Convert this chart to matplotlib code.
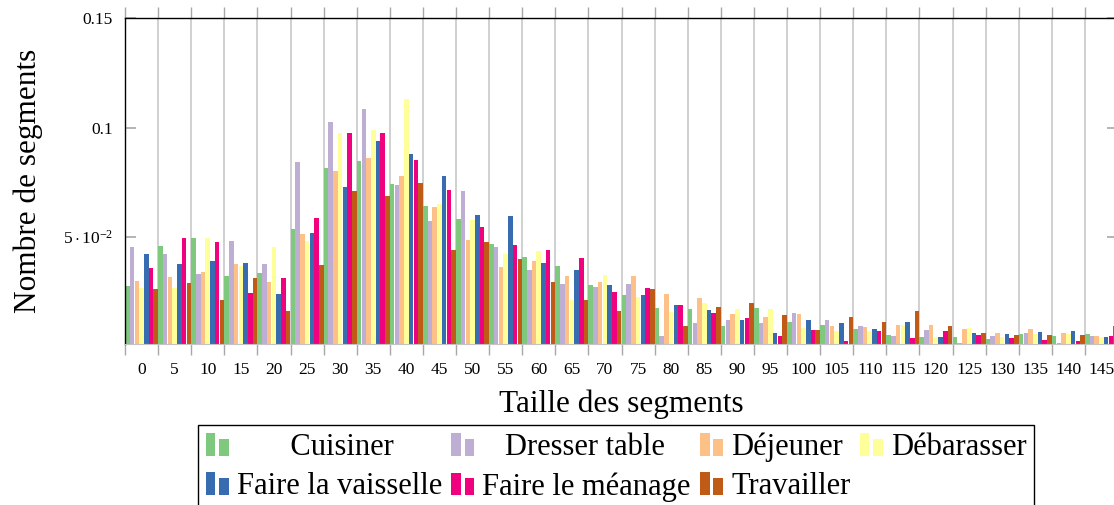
import matplotlib.pyplot as plt
import numpy as np
from matplotlib.legend_handler import HandlerBase
from matplotlib.patches import Rectangle

plt.rcParams['font.family'] = 'Liberation Serif'
plt.rcParams['mathtext.fontset'] = 'custom'
plt.rcParams['mathtext.rm'] = 'Liberation Serif'
plt.rcParams['mathtext.it'] = 'Liberation Serif:italic'

tailles = np.arange(0, 150, 5)

cuisiner = [0.0279, 0.0460, 0.0497, 0.0322, 0.0337, 0.0539, 0.0817, 0.0850, 0.0744, 0.0643,
            0.0584, 0.0471, 0.0411, 0.0369, 0.0283, 0.0236, 0.0177, 0.0172, 0.0093, 0.0177,
            0.0113, 0.0098, 0.0081, 0.0055, 0.0044, 0.0044, 0.0034, 0.0059, 0.0049, 0.0057]
dresser = [0.0454, 0.0424, 0.0334, 0.0483, 0.0379, 0.0844, 0.1027, 0.1086, 0.0739, 0.0574,
           0.0712, 0.0454, 0.0349, 0.0288, 0.0273, 0.0288, 0.0048, 0.0108, 0.0122, 0.0107,
           0.0154, 0.0122, 0.0093, 0.0048, 0.0076, 0.0015, 0.0048, 0.0063, 0.0015, 0.0049]
dejeuner = [0.0302, 0.0319, 0.0343, 0.0379, 0.0297, 0.0515, 0.0804, 0.0861, 0.0781, 0.0640,
            0.0488, 0.0366, 0.0392, 0.0322, 0.0297, 0.0322, 0.0241, 0.0221, 0.0149, 0.0134,
            0.0149, 0.0096, 0.0090, 0.0100, 0.0100, 0.0081, 0.0061, 0.0081, 0.0063, 0.0049]
debarasser = [0.0270, 0.0270, 0.0495, 0.0369, 0.0454, 0.0482, 0.0977, 0.0990, 0.1132, 0.0651,
              0.0580, 0.0424, 0.0439, 0.0213, 0.0326, 0.0227, 0.0157, 0.0201, 0.0171, 0.0171,
              0.0085, 0.0072, 0.0072, 0.0100, 0.0044, 0.0085, 0.0044, 0.0059, 0.0059, 0.0044]
vaisselle = [0.0424, 0.0377, 0.0393, 0.0381, 0.0241, 0.0518, 0.0731, 0.0940, 0.0879, 0.0780,
             0.0602, 0.0597, 0.0382, 0.0350, 0.0283, 0.0236, 0.0189, 0.0168, 0.0123, 0.0063,
             0.0123, 0.0107, 0.0079, 0.0113, 0.0044, 0.0063, 0.0058, 0.0067, 0.0072, 0.0044]
menage = [0.0358, 0.0495, 0.0480, 0.0245, 0.0313, 0.0588, 0.0974, 0.0974, 0.0853, 0.0716,
          0.0548, 0.0465, 0.0442, 0.0404, 0.0251, 0.0268, 0.0190, 0.0154, 0.0131, 0.0048,
          0.0078, 0.0026, 0.0070, 0.0041, 0.0072, 0.0055, 0.0040, 0.0032, 0.0026, 0.0049]
travailler = [0.0264, 0.0290, 0.0213, 0.0315, 0.0163, 0.0373, 0.0713, 0.0687, 0.0747, 0.0442,
              0.0477, 0.0400, 0.0297, 0.0213, 0.0163, 0.0264, 0.0095, 0.0180, 0.0198, 0.0145,
              0.0078, 0.0137, 0.0113, 0.0163, 0.0095, 0.0061, 0.0052, 0.0053, 0.0053, 0.0096]

series = [cuisiner, dresser, dejeuner, debarasser, vaisselle, menage, travailler]
noms = ["Cuisiner", "Dresser table", "Déjeuner", "Débarasser",
        "Faire la vaisselle", "Faire le méanage", "Travailler"]
# palette Accent
couleurs = ['#7fc97f', '#beaed4', '#fdc086', '#ffff99', '#386cb0', '#f0027f', '#bf5b17']


class DoubleBarre(HandlerBase):
    # deux petites barres comme dans les légendes ybar de pgfplots
    def create_artists(self, legend, orig, xd, yd, width, height, fontsize, trans):
        c = orig.get_facecolor()
        bw = width * 0.4
        a = Rectangle((-xd, -yd), bw, height, facecolor=c, edgecolor='none', transform=trans)
        b = Rectangle((-xd + width * 0.55, -yd), bw, height * 0.76,
                      facecolor=c, edgecolor='none', transform=trans)
        return [a, b]


fig = plt.figure(figsize=(11.14, 5.05), dpi=100)
ax = fig.add_axes([125 / 1114, 1 - 344 / 505, 993 / 1114, 325.7 / 505])

n = len(series)
w = 1 / n
pos = np.arange(len(tailles))
premiers = []
for j, (vals, c, nom) in enumerate(zip(series, couleurs, noms)):
    barres = ax.bar(pos + (j + 0.5) * w, vals, width=w * 0.96, color=c, label=nom, zorder=2)
    premiers.append(barres.patches[0])

ax.set_xlim(0, len(tailles))
ax.set_ylim(0.0012, 0.15)

ax.set_xticks(pos + 0.5)
ax.set_xticklabels([str(t) for t in tailles])
ax.set_xticks(np.arange(len(tailles) + 1), minor=True)
ax.tick_params(axis='x', which='major', length=0, pad=13, labelsize=12.5)
ax.tick_params(axis='x', which='minor', direction='out', length=8, width=1,
               color='#a8a8a8', top=True, bottom=True)
ax.grid(axis='x', which='minor', color='#c4c4c4', lw=1.1, zorder=0)
ax.set_axisbelow(True)

ax.set_yticks([0.05, 0.1, 0.15])
ax.set_yticklabels([r"$5\cdot10^{-2}$", "0.1", "0.15"])
ax.tick_params(axis='y', direction='in', length=8, width=1.2, color='#a8a8a8',
               left=True, right=True, labelsize=12.5, pad=8.6)

for s in ['left', 'top', 'right']:
    ax.spines[s].set_color('black')
    ax.spines[s].set_linewidth(1.0)
ax.spines['bottom'].set_color('#c4c4c4')

ax.set_xlabel("Taille des segments", fontsize=22.5)
ax.set_ylabel("Nombre de segments", fontsize=22.5)
ax.xaxis.set_label_coords(0.5, -0.14)
ax.yaxis.set_label_coords(-0.083, 0.5)

# ordre par lignes dans une légende à 4 colonnes
ordre = [0, 4, 1, 5, 2, 6, 3]
etiquettes = list(noms)
etiquettes[0] = "       " + etiquettes[0]
etiquettes[1] = "   " + etiquettes[1]
leg = fig.legend([premiers[i] for i in ordre], [etiquettes[i] for i in ordre],
                 handler_map={Rectangle: DoubleBarre()}, ncol=4, loc='upper left',
                 bbox_to_anchor=(198 / 1114, 1 - 425 / 505), fancybox=False,
                 edgecolor='black', framealpha=1, fontsize=22, handlelength=0.8,
                 handleheight=0.75, handletextpad=0.22, columnspacing=0.3,
                 borderpad=0.25, labelspacing=0.33, borderaxespad=0)
leg.get_frame().set_linewidth(1.0)

fig.savefig('out.png', dpi=100)
